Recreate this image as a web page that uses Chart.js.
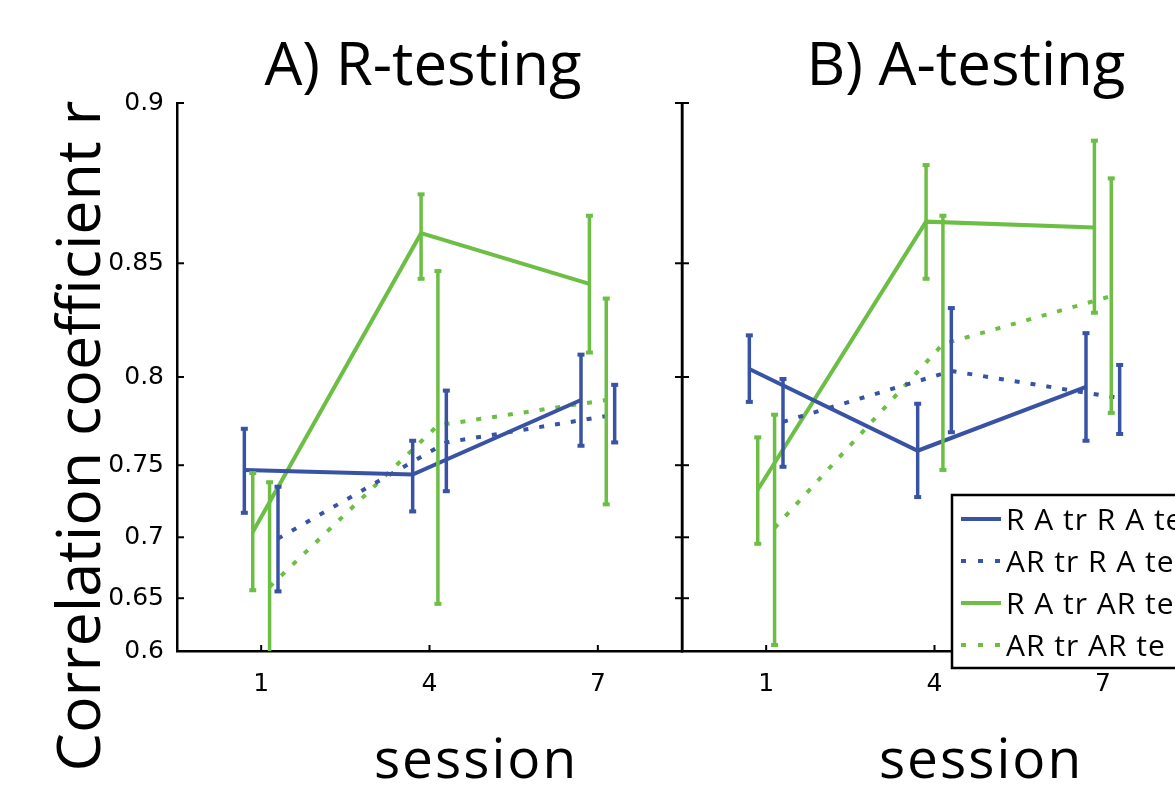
<!DOCTYPE html>
<html>
<head>
<meta charset="utf-8">
<script src="https://cdn.jsdelivr.net/npm/chart.js@4.4.0/dist/chart.umd.min.js"></script>
<style>
html, body { margin: 0; padding: 0; background: #fff; overflow: hidden; }
#contenedor { position: relative; width: 1175px; height: 793px; overflow: hidden; background: #fff; }
#contenedor canvas { position: absolute; top: 0; }
#panelA { left: 0; }
#panelB { left: 600px; }
</style>
</head>
<body>
<div id="contenedor">
  <canvas id="panelA" width="700" height="793"></canvas>
  <canvas id="panelB" width="600" height="793"></canvas>
</div>
<script>
// categorias y ticks
var sesiones = [1, 4, 7];
var sesionesEtiquetas = ['1', '4', '7'];
var yTicks = [0.6, 0.65, 0.7, 0.75, 0.8, 0.85, 0.9];
var yTicksEtiquetas = ['0.6', '0.65', '0.7', '0.75', '0.8', '0.85', '0.9'];
var nombresSeries = ['R A tr R A te', 'AR tr R A te', 'R A tr AR te', 'AR tr AR te'];

// A) R-testing  (media, limite inferior, limite superior)
var aRaRaMedia = [0.747, 0.744, 0.788];
var aRaRaBajo  = [0.718, 0.719, 0.762];
var aRaRaAlto  = [0.772, 0.765, 0.811];
var aArRaMedia = [0.699, 0.764, 0.780];
var aArRaBajo  = [0.656, 0.733, 0.764];
var aArRaAlto  = [0.736, 0.793, 0.796];
var aRaArMedia = [0.704, 0.861, 0.842];
var aRaArBajo  = [0.657, 0.844, 0.812];
var aRaArAlto  = [0.745, 0.874, 0.867];
var aArArMedia = [0.660, 0.774, 0.788];
var aArArBajo  = [0.556, 0.645, 0.724];
var aArArAlto  = [0.739, 0.847, 0.836];

// B) A-testing
var bRaRaMedia = [0.804, 0.759, 0.795];
var bRaRaBajo  = [0.787, 0.729, 0.765];
var bRaRaAlto  = [0.820, 0.786, 0.821];
var bArRaMedia = [0.776, 0.803, 0.789];
var bArRaBajo  = [0.749, 0.770, 0.769];
var bArRaAlto  = [0.799, 0.832, 0.806];
var bRaArMedia = [0.734, 0.865, 0.863];
var bRaArBajo  = [0.695, 0.844, 0.830];
var bRaArAlto  = [0.767, 0.883, 0.890];
var bArArMedia = [0.707, 0.816, 0.837];
var bArArBajo  = [0.606, 0.747, 0.781];
var bArArAlto  = [0.780, 0.867, 0.879];

var azul = '#3953a4';
var verde = '#6cbe45';
var punteado = [5, 11];

// estilo de cada serie (color, linea, desplazamiento en x)
var estilos = [
    { color: azul,  dash: [],       desplazamiento: -0.3 },
    { color: azul,  dash: punteado, desplazamiento: 0.3 },
    { color: verde, dash: [],       desplazamiento: -0.15 },
    { color: verde, dash: punteado, desplazamiento: 0.15 }
];

var fuenteTitulo = '"Open Sans", "Noto Sans", sans-serif';

function linea(ctx, x1, y1, x2, y2) {
    ctx.beginPath();
    ctx.moveTo(x1, y1);
    ctx.lineTo(x2, y2);
    ctx.stroke();
}

function crearPanel(id, series, cfg) {
    var ctx = document.getElementById(id).getContext('2d');

    var datasets = series.map(function (s, k) {
        return {
            label: nombresSeries[k],
            data: sesiones.map(function (ses, i) {
                return { x: ses + estilos[k].desplazamiento, y: 1 - s.media[i] };
            }),
            borderColor: estilos[k].color,
            backgroundColor: estilos[k].color,
            borderWidth: 4,
            borderDash: estilos[k].dash,
            borderCapStyle: 'butt',
            pointRadius: 0,
            fill: false,
            tension: 0
        };
    });

    var decoracion = {
        id: 'decoracion',
        afterDatasetsDraw: function (chart) {
            var c = chart.ctx, area = chart.chartArea;
            var ex = chart.scales.x, ey = chart.scales.y;

            // barras de error
            c.save();
            c.beginPath();
            c.rect(area.left, area.top, area.right - area.left, area.bottom - area.top);
            c.clip();
            series.forEach(function (s, k) {
                c.strokeStyle = estilos[k].color;
                c.fillStyle = estilos[k].color;
                c.lineWidth = 3.5;
                c.setLineDash([]);
                chart.data.datasets[k].data.forEach(function (p, i) {
                    var px = ex.getPixelForValue(p.x);
                    var y1 = ey.getPixelForValue(1 - s.bajo[i]);
                    var y2 = ey.getPixelForValue(1 - s.alto[i]);
                    linea(c, px, y1, px, y2);
                    c.fillRect(px - 3.5, y1 - 2, 7, 4);
                    c.fillRect(px - 3.5, y2 - 2, 7, 4);
                });
            });
            c.restore();

            // marco y ticks hacia adentro
            c.save();
            c.strokeStyle = '#000';
            c.setLineDash([]);
            if (cfg.marcoDerecho) {
                c.lineWidth = 2.5;
                linea(c, area.right, area.top, area.right, area.bottom + 1.25);
            }
            c.lineWidth = 2;
            ey.ticks.forEach(function (t, i) {
                var py = ey.getPixelForTick(i);
                linea(c, area.left, py, area.left + 7, py);
                if (cfg.marcoDerecho) linea(c, area.right - 7, py, area.right, py);
            });
            ex.ticks.forEach(function (t, i) {
                var px = ex.getPixelForTick(i);
                linea(c, px, area.bottom, px, area.bottom - 6);
            });
            c.restore();
        },
        afterDraw: function (chart) {
            var c = chart.ctx;
            c.save();
            c.fillStyle = '#000';
            c.textAlign = 'center';
            c.textBaseline = 'alphabetic';

            c.font = '60px ' + fuenteTitulo;
            c.fillText(cfg.titulo, cfg.tituloX, 85);

            c.font = '55px ' + fuenteTitulo;
            c.letterSpacing = '2px';
            c.fillText('session', cfg.sesionX, 778);
            c.letterSpacing = '0px';

            if (cfg.tituloY) {
                c.save();
                c.translate(100, 436);
                c.rotate(-Math.PI / 2);
                c.font = '61px ' + fuenteTitulo;
                c.fillText(cfg.tituloY, 0, 0);
                c.restore();
            }

            if (cfg.leyenda) {
                var L = cfg.leyenda;
                c.fillStyle = '#fff';
                c.fillRect(L.x, L.y, 300, 173);
                c.strokeStyle = '#000';
                c.lineWidth = 2.5;
                c.strokeRect(L.x, L.y, 300, 173);
                c.font = '30px ' + fuenteTitulo;
                c.textAlign = 'left';
                c.letterSpacing = '1px';
                nombresSeries.forEach(function (nombre, k) {
                    var fy = L.y + 24 + k * 42;
                    c.strokeStyle = estilos[k].color;
                    c.lineWidth = 4;
                    c.setLineDash(estilos[k].dash.length ? [5, 12] : []);
                    linea(c, L.x + 9, fy, L.x + 49, fy);
                    c.setLineDash([]);
                    c.fillStyle = '#000';
                    c.fillText(nombre, L.x + 54, fy + 11);
                });
            }
            c.restore();
        }
    };

    return new Chart(ctx, {
        type: 'line',
        data: { datasets: datasets },
        plugins: [decoracion],
        options: {
            responsive: false,
            animation: false,
            layout: { padding: { top: 103, right: cfg.rellenoDerecho, bottom: 0, left: 0 } },
            plugins: {
                legend: { display: false },
                tooltip: { enabled: false },
                title: { display: false }
            },
            scales: {
                x: {
                    type: 'linear',
                    min: -0.5,
                    max: 8.5,
                    grid: { display: false },
                    border: { display: true, color: '#000', width: 2.5 },
                    afterBuildTicks: function (s) {
                        s.ticks = sesiones.map(function (v) { return { value: v }; });
                    },
                    afterFit: function (s) { s.height = 142; },
                    ticks: {
                        padding: 10,
                        color: '#000',
                        font: { family: '"DejaVu Sans"', size: 25 },
                        callback: function (v, i) { return sesionesEtiquetas[i]; }
                    }
                },
                y: {
                    type: 'logarithmic',
                    reverse: true,
                    min: 1 - yTicks[yTicks.length - 1],
                    max: 1 - yTicks[0],
                    grid: { display: false },
                    border: { display: true, color: '#000', width: 2.5 },
                    afterBuildTicks: function (s) {
                        s.ticks = yTicks.map(function (v) { return { value: 1 - v }; });
                    },
                    afterFit: function (s) { s.width = cfg.anchoEjeY; },
                    ticks: {
                        display: cfg.etiquetasY,
                        padding: 5,
                        color: '#000',
                        font: { family: '"DejaVu Sans"', size: 25 },
                        callback: function (v, i) { return yTicksEtiquetas[i]; }
                    }
                }
            }
        }
    });
}

var panelA = crearPanel('panelA', [
    { media: aRaRaMedia, bajo: aRaRaBajo, alto: aRaRaAlto },
    { media: aArRaMedia, bajo: aArRaBajo, alto: aArRaAlto },
    { media: aRaArMedia, bajo: aRaArBajo, alto: aRaArAlto },
    { media: aArArMedia, bajo: aArArBajo, alto: aArArAlto }
], {
    titulo: 'A) R-testing', tituloX: 423, sesionX: 476,
    tituloY: 'Correlation coefficient r',
    marcoDerecho: true, rellenoDerecho: 18, anchoEjeY: 177, etiquetasY: true
});

var panelB = crearPanel('panelB', [
    { media: bRaRaMedia, bajo: bRaRaBajo, alto: bRaRaAlto },
    { media: bArRaMedia, bajo: bArRaBajo, alto: bArRaAlto },
    { media: bRaArMedia, bajo: bRaArBajo, alto: bRaArAlto },
    { media: bArArMedia, bajo: bArArBajo, alto: bArArAlto }
], {
    titulo: 'B) A-testing', tituloX: 366, sesionX: 381,
    marcoDerecho: false, rellenoDerecho: 13, anchoEjeY: 82, etiquetasY: false,
    leyenda: { x: 352, y: 495 }
});
</script>
</body>
</html>
